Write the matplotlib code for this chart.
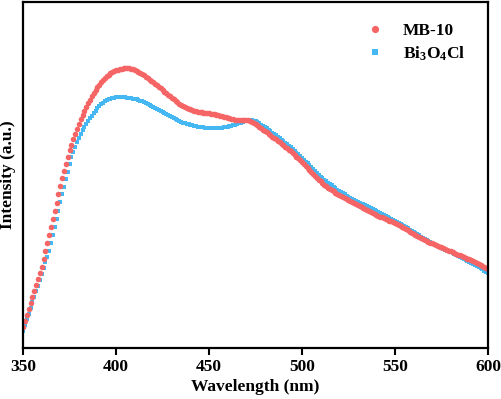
import numpy as np
import matplotlib
matplotlib.use("Agg")
import matplotlib.pyplot as plt

plt.rcParams['font.family'] = ['Liberation Serif', 'DejaVu Serif']
plt.rcParams['font.weight'] = 'bold'
plt.rcParams['mathtext.fontset'] = 'custom'
plt.rcParams['mathtext.bf'] = 'Liberation Serif:bold'
plt.rcParams['mathtext.rm'] = 'Liberation Serif:bold'
plt.rcParams['mathtext.default'] = 'bf'

# wavelength, 1 nm step
wavelength = np.arange(350, 601)

# MB-10 (arbitrary units)
mb10 = [
    21, 27, 33, 39, 45, 51, 57, 63, 69, 75,
    81, 89, 97, 105, 113, 121, 129, 137, 145, 154,
    162, 170, 177, 184, 191, 198, 203, 209, 214, 219,
    224, 229, 233, 237, 241, 245, 248, 252, 255, 258,
    261, 263, 266, 268, 270, 272, 273, 275, 276, 277,
    278, 278, 279, 279, 280, 280, 280, 280, 279, 279,
    278, 277, 276, 275, 274, 273, 271, 270, 268, 267,
    266, 264, 263, 261, 260, 258, 256, 255, 253, 252,
    250, 249, 247, 246, 244, 243, 242, 241, 240, 239,
    239, 238, 237, 237, 236, 236, 236, 235, 235, 235,
    235, 234, 234, 234, 233, 233, 232, 232, 231, 231,
    230, 230, 229, 229, 228, 228, 228, 228, 228, 228,
    228, 228, 227, 226, 225, 224, 223, 221, 220, 218,
    217, 216, 214, 213, 211, 210, 209, 207, 206, 204,
    203, 201, 200, 198, 197, 195, 193, 191, 190, 188,
    186, 184, 182, 180, 178, 176, 174, 172, 170, 168,
    167, 165, 163, 162, 160, 159, 158, 157, 155, 154,
    153, 152, 151, 150, 149, 148, 147, 146, 145, 144,
    143, 142, 141, 140, 139, 138, 137, 136, 135, 134,
    133, 132, 131, 131, 130, 129, 128, 127, 127, 126,
    125, 124, 123, 122, 121, 120, 119, 118, 116, 115,
    114, 113, 112, 111, 110, 109, 108, 107, 106, 105,
    105, 104, 103, 102, 101, 101, 100, 99, 98, 97,
    97, 96, 95, 94, 93, 93, 92, 91, 90, 89,
    89, 88, 87, 86, 85, 84, 83, 82, 81, 80,
    79,
]

# Bi3O4Cl
bi3o4cl = [
    17, 23, 29, 34, 40, 46, 51, 57, 62, 68,
    74, 80, 86, 91, 97, 105, 113, 121, 129, 137,
    146, 154, 161, 169, 176, 184, 191, 196, 201, 206,
    210, 214, 218, 221, 224, 227, 230, 232, 235, 237,
    240, 242, 244, 245, 247, 248, 249, 249, 250, 250,
    251, 251, 251, 251, 251, 251, 250, 250, 250, 249,
    249, 249, 248, 247, 247, 246, 245, 244, 243, 242,
    241, 240, 239, 238, 237, 236, 235, 234, 233, 232,
    231, 230, 229, 228, 227, 226, 225, 225, 224, 224,
    223, 223, 222, 222, 221, 221, 221, 221, 220, 220,
    220, 220, 220, 220, 220, 220, 220, 220, 221, 221,
    221, 222, 222, 223, 223, 224, 225, 225, 226, 227,
    227, 228, 228, 228, 227, 227, 226, 225, 223, 222,
    221, 220, 218, 217, 215, 214, 213, 211, 210, 208,
    207, 205, 204, 202, 201, 199, 197, 195, 194, 192,
    190, 188, 186, 185, 183, 181, 179, 177, 175, 173,
    171, 170, 168, 167, 165, 164, 163, 161, 160, 158,
    157, 156, 155, 154, 152, 151, 150, 149, 148, 147,
    146, 145, 144, 144, 143, 142, 141, 140, 139, 138,
    137, 136, 135, 134, 133, 132, 131, 130, 129, 128,
    127, 126, 125, 124, 123, 122, 121, 120, 118, 117,
    116, 115, 114, 113, 111, 110, 109, 108, 107, 106,
    105, 104, 103, 102, 101, 100, 99, 98, 97, 97,
    96, 95, 94, 93, 92, 91, 90, 89, 88, 87,
    86, 85, 84, 83, 82, 81, 80, 79, 77, 76,
    75,
]

fig = plt.figure(figsize=(5.02, 3.99), dpi=100)
ax = fig.add_axes([0.046, 0.128, 0.926, 0.867])

hb, = ax.plot(wavelength, bi3o4cl, 's', ms=3.2, mew=0, color='#45B7F3',
              label='Bi$_3$O$_4$Cl')
hr, = ax.plot(wavelength, mb10, 'o', ms=4.0, mew=0, color='#F66565',
              label='MB-10')

ax.set_xlim(350, 600)
ax.set_ylim(0, 346)
ax.set_xticks([350, 400, 450, 500, 550, 600])
ax.set_yticks([])
ax.tick_params(axis='x', direction='out', length=5, width=1.5, labelsize=12.5, pad=3)
for s in ax.spines.values():
    s.set_linewidth(1.6)

ax.set_xlabel('Wavelength (nm)', fontsize=12.5, fontweight='bold', labelpad=3)
ax.set_ylabel('Intensity (a.u.)', fontsize=12.5, fontweight='bold', labelpad=5)

ax.legend(handles=[hr, hb], loc='upper right', bbox_to_anchor=(0.985, 0.985),
          frameon=False, fontsize=12.5, handletextpad=0.6, labelspacing=0.3,
          markerscale=1.3)

fig.savefig('out.png', dpi=100)
